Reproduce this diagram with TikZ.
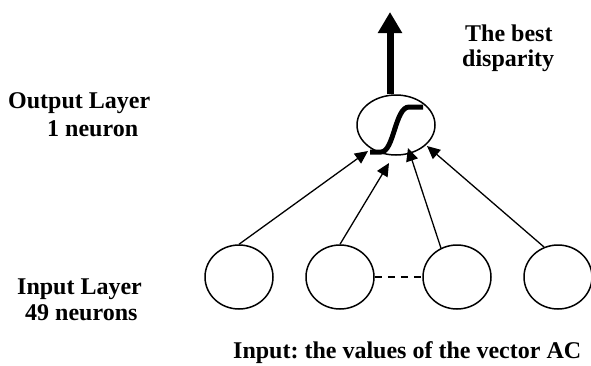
\documentclass[tikz,border=0pt]{standalone}
\usepackage{fontspec}
\setmainfont{Liberation Serif}
\usetikzlibrary{arrows.meta,calc,shapes.geometric}
\begin{document}
\frenchspacing
\begin{tikzpicture}[x=1pt,y=-1pt,
  neuron/.style={draw,line width=1.5pt,ellipse,minimum width=68pt,minimum height=64pt,inner sep=0pt},
  outneuron/.style={draw,line width=1.5pt,ellipse,minimum width=78pt,minimum height=60pt,inner sep=0pt},
  conn/.style={line width=1.3pt,-{Triangle[length=13pt,width=12pt]}},
  lbl/.style={font=\fontsize{24}{25}\selectfont\bfseries,inner sep=0pt,anchor=base west}]
\useasboundingbox (0,0) rectangle (591,365);
\node[outneuron] (o) at (396,125) {};
\node[neuron] (i1) at (239,277) {};
\node[neuron] (i2) at (340,277) {};
\node[neuron] (i3) at (457,277) {};
\node[neuron] (i4) at (558,277) {};
\draw[line width=1.5pt,dashed,dash pattern=on 7pt off 6pt] (i2.east) -- (i3.west);
\coordinate (t1) at (368,151);
\coordinate (t2) at (389,163);
\coordinate (t3) at (408,148);
\coordinate (t4) at (427,146);
\draw[conn] (i1.north) -- (t1);
\draw[conn] (i2.north) -- (t2);
\draw[conn] (i3.119) -- (t3);
\draw[conn] (i4.115) -- (t4);
% sigmoid
\draw[line width=5pt] (370,152) -- (381,152) .. controls (394,152) and (395,107) .. (409,107) -- (423,107);
% output arrow
\coordinate (up) at (390,12);
\draw[line width=7pt,-{Triangle[length=21pt,width=23pt]}] (up |- o.north) -- (up);
% labels
\node[lbl] (tb) at (465,41) {The best};
\node[lbl] (dp) at (462,66) {disparity};
\node[lbl] (ol) at (8,108) {Output Layer};
\node[lbl] (on) at (47,136) {1 neuron};
\node[lbl] (il) at (17,294) {Input Layer};
\node[lbl] (in) at (25,320) {49 neurons};
\node[lbl] (iv) at (233,358) {Input: the values of the vector AC};
\end{tikzpicture}
\end{document}
